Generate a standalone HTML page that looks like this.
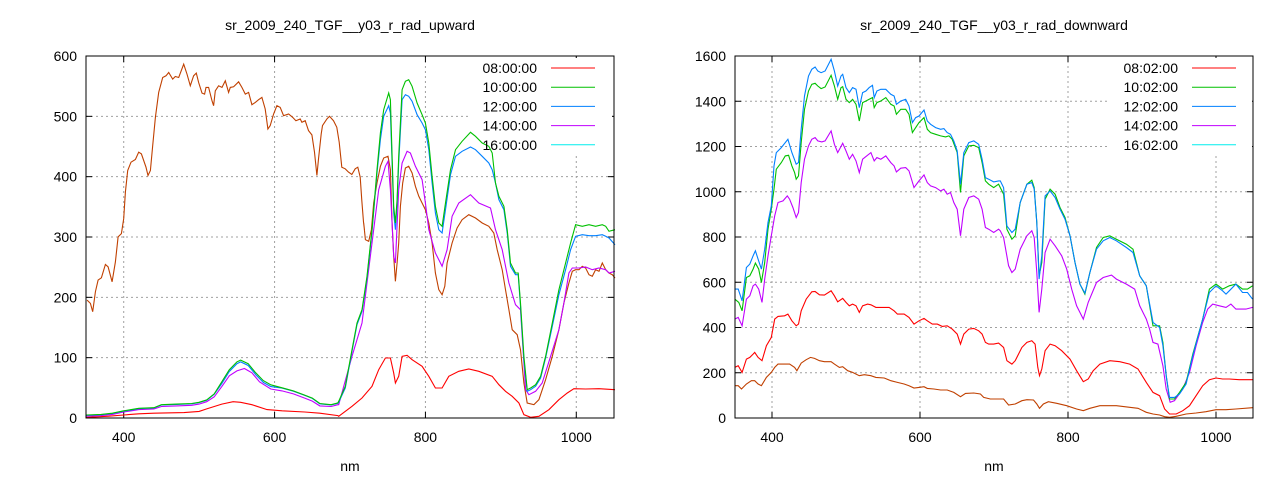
<!DOCTYPE html>
<html><head><meta charset="utf-8"><style>
html,body{margin:0;padding:0;background:#fff;}
svg{display:block;font-family:"Liberation Sans",sans-serif;}
</style></head><body>
<svg id="s" width="1280" height="480" xmlns="http://www.w3.org/2000/svg"></svg>
<script>
const S=document.getElementById('s');let out='';
function P(panel){
 const L={x0:86,x1:614,y0:56,y1:418,vmax:600};
 const R={x0:735,x1:1253,y0:56,y1:418,vmax:1600};
 return panel==='L'?L:R;
}
function X(p,nm){return p.x0+(nm-350)/700*(p.x1-p.x0);}
function Y(p,v){return p.y1-v/p.vmax*(p.y1-p.y0);}
function axes(p,title,yt){
 for(const nm of [400,600,800,1000]){const x=X(p,nm);out+=`<line x1="${x}" y1="${p.y0}" x2="${x}" y2="${p.y1}" stroke="#a0a0a0" stroke-dasharray="2,3"/>`;
  out+=`<line x1="${x}" y1="${p.y1}" x2="${x}" y2="${p.y1-6}" stroke="#000"/><line x1="${x}" y1="${p.y0}" x2="${x}" y2="${p.y0+6}" stroke="#000"/>`;
  out+=`<text x="${x}" y="${p.y1+24}" font-size="14" text-anchor="middle">${nm}</text>`;}
 for(const v of yt){const y=Y(p,v);
  if(v>0&&v<p.vmax)out+=`<line x1="${p.x0}" y1="${y}" x2="${p.x1}" y2="${y}" stroke="#a0a0a0" stroke-dasharray="2,3"/>`;
  out+=`<line x1="${p.x0}" y1="${y}" x2="${p.x0+6}" y2="${y}" stroke="#000"/><line x1="${p.x1}" y1="${y}" x2="${p.x1-6}" y2="${y}" stroke="#000"/>`;
  out+=`<text x="${p.x0-9}" y="${y+5}" font-size="14" text-anchor="end">${v}</text>`;}
 const cx=(p.x0+p.x1)/2;
 out+=`<text x="${cx}" y="30" font-size="14" text-anchor="middle">${title}</text>`;
 out+=`<text x="${cx}" y="471" font-size="14" text-anchor="middle">nm</text>`;
}
function frame(p,legend,lx){
 const cols=['#ff0000','#00c000','#0080ff','#c000ff','#00eeee'];
 legend.forEach((t,i)=>{const y=68+i*19.2;
  out+=`<text x="${lx}" y="${y+5}" font-size="14" text-anchor="end">${t}</text><line x1="${lx+14}" y1="${y}" x2="${lx+58}" y2="${y}" stroke="${cols[i]}"/>`;});
 out+=`<rect x="${p.x0}" y="${p.y0}" width="${p.x1-p.x0}" height="${p.y1-p.y0}" fill="none" stroke="#000"/>`;
}
function line(p,pts,col){out+=`<polyline fill="none" stroke="${col}" stroke-width="1.1" points="${pts.map(q=>X(p,q[0]).toFixed(1)+','+Y(p,q[1]).toFixed(1)).join(' ')}"/>`;}
const z5=a=>a.map(([x,y])=>[400+(x-115)/2.265,(1090-y)/1.816]);
const z6=a=>a.map(([x,y])=>[800+(x-260)/2.26,(1085-y)/1.81]);
const z7=a=>a.map(([x,y])=>[400+(x-112)/2.23,(1087-y)/0.6794]);
const z8=a=>a.filter(([x,y])=>x>66).map(([x,y])=>[800+(x-254)/2.23,(1087-y)/0.6794]);
const L=P('L');
axes(L,'sr_2009_240_TGF__y03_r_rad_upward',[0,100,200,300,400,500,600]);
out+=`<rect x="470" y="58" width="142" height="96" fill="#fff"/>`;
const brownL=z5([[5,735],[15,745],[22,770],[30,710],[38,675],[48,668],[60,628],[68,635],[80,680],[90,620],[98,545],[108,535],[115,490],[120,410],[127,345],[137,320],[150,312],[160,290],[168,295],[182,335],[188,360],[195,345],[202,270],[210,185],[220,110],[232,65],[242,60],[250,50],[262,70],[270,62],[280,65],[295,25],[305,55],[315,90],[325,60],[333,52],[340,80],[350,112],[358,115],[362,95],[370,95],[380,135],[385,150],[390,105],[400,90],[410,95],[420,75],[430,110],[435,95],[445,93],[460,78],[470,95],[480,115],[490,110],[500,147],[510,140],[520,132],[530,125],[540,160],[548,220],[555,210],[565,175],[575,150],[585,155],[595,180],[610,175],[622,185],[632,195],[645,190],[650,200],[660,195],[670,225],[680,238],[688,290],[695,360],[700,310],[708,235],[712,210],[725,190],[733,182],[745,195],[755,215],[762,260],[770,335],[780,340],[790,350],[800,357],[810,340],[818,335],[825,365],[830,435],[835,500],[838,525]]).concat(z6([[75,500],[80,550],[90,555],[98,520],[105,440],[115,380],[125,330],[135,305],[148,300],[155,340],[160,500],[165,600],[170,675],[175,620],[180,560],[185,450],[192,380],[200,335],[210,330],[220,350],[230,390],[240,420],[250,440],[260,460],[270,500],[280,560],[290,650],[300,700],[310,715],[318,690],[325,620],[340,560],[355,515],[370,490],[390,475],[410,485],[430,500],[450,510],[465,530],[475,580],[490,640],[500,700],[510,760],[520,820],[535,835],[545,880],[555,980],[565,1040],[585,1045],[600,1030],[620,970],[640,900],[660,820],[675,740],[690,680],[700,645],[710,640],[720,640],[730,630],[740,635],[750,655],[760,660],[770,640],[780,645],[790,620],[800,640],[810,650],[820,655],[828,665]]));
const lowG=[[350,5],[370,6],[385,8],[400,12],[410,14],[420,16],[440,17],[450,22],[470,23],[490,24],[500,26],[510,30],[520,40],[530,60],[540,80],[550,93],[555,96],[565,90],[575,75],[585,62],[595,55],[610,50],[625,45],[640,38],[650,33],[660,24],[675,22],[684,25]];
const greenL=lowG.concat(z6([[0,1035],[20,990],[40,880],[55,800],[70,760],[85,660],[100,520],[115,340],[125,230],[135,160],[150,110],[155,130],[160,300],[165,450],[170,500],[175,430],[180,300],[190,100],[200,75],[210,70],[220,90],[235,140],[250,175],[260,200],[270,260],[280,360],[290,450],[300,500],[310,510],[320,440],[335,340],[350,280],[370,255],[395,228],[410,240],[430,260],[450,270],[460,290],[470,380],[480,420],[495,450],[505,520],[515,620],[530,650],[538,650],[545,740],[555,900],[565,1000],[575,995],[590,985],[605,960],[620,900],[640,800],[660,700],[680,620],[695,560],[710,505],[730,510],[750,505],[770,510],[790,505],[800,510],[810,525],[828,520]]));
const blueL=lowG.map(([a,b])=>[a,b>50?b-3:b-0.5]).concat(z6([[0,1038],[20,995],[40,885],[55,805],[70,765],[85,665],[100,525],[115,350],[125,250],[135,180],[150,148],[155,170],[160,320],[165,470],[170,520],[175,440],[180,320],[190,130],[200,115],[210,120],[220,135],[235,175],[250,200],[260,220],[270,280],[280,380],[290,470],[300,520],[310,530],[320,460],[335,355],[350,300],[370,285],[395,272],[410,280],[430,300],[450,320],[460,340],[470,380],[480,430],[495,460],[505,530],[515,630],[530,655],[538,655],[545,750],[555,910],[565,1005],[575,1000],[590,990],[605,965],[620,905],[640,810],[660,715],[680,640],[695,580],[710,540],[730,535],[750,538],[770,538],[790,535],[800,540],[810,545],[828,565]]));
const purpleL=[[350,3],[370,4],[385,6],[400,10],[410,12],[420,14],[440,15],[450,19],[470,20],[490,21],[500,23],[510,27],[520,35],[530,52],[540,70],[550,78],[560,82],[570,75],[580,60],[595,48],[610,45],[625,40],[640,33],[650,28],[660,20],[675,19],[684,22]].concat(z6([[0,1045],[40,900],[70,800],[100,560],[120,400],[140,330],[148,315],[155,400],[165,600],[170,620],[180,400],[190,320],[205,285],[215,290],[230,330],[250,370],[260,440],[270,520],[290,590],[310,630],[325,580],[340,480],[360,440],[395,415],[420,440],[455,455],[470,520],[490,580],[510,680],[530,745],[545,760],[560,1000],[570,1015],[590,1005],[610,980],[635,900],[660,820],[675,740],[690,650],[700,635],[720,635],[740,632],[760,640],[780,635],[800,640],[810,650],[828,645]]));
const redL=[[350,1],[380,3],[400,5],[420,7],[440,8],[480,9],[500,11],[510,15],[530,23],[545,27],[555,26],[570,22],[590,14],[610,12],[640,10],[660,8],[684,4]].concat(z6([[0,1080],[40,1050],[70,1025],[100,990],[120,940],[140,905],[155,905],[165,950],[170,980],[180,960],[190,900],[205,897],[220,910],[250,930],[270,960],[290,995],[310,995],[330,960],[360,945],[390,938],[420,945],[460,960],[480,985],[500,1005],[520,1020],[540,1040],[555,1075],[575,1083],[600,1080],[630,1060],[660,1030],[685,1010],[705,997],[740,998],[780,997],[828,1000]]));
line(L,brownL,'#c04000');line(L,redL,'#ff0000');line(L,purpleL,'#c000ff');line(L,blueL,'#0080ff');line(L,greenL,'#00c000');
frame(L,['08:00:00','10:00:00','12:00:00','14:00:00','16:00:00'],537);
const R=P('R');
axes(R,'sr_2009_240_TGF__y03_r_rad_downward',[0,200,400,600,800,1000,1200,1400,1600]);
out+=`<rect x="1110" y="58" width="142" height="96" fill="#fff"/>`;
const blueR=z7([[0,700],[10,700],[22,735],[35,635],[45,625],[55,600],[62,585],[70,610],[80,640],[90,580],[100,500],[110,450],[118,330],[125,290],[140,275],[160,250],[172,290],[185,325],[192,320],[200,220],[210,120],[222,60],[232,40],[242,33],[250,45],[260,50],[272,45],[290,10],[300,45],[310,90],[320,60],[325,55],[335,95],[345,110],[355,95],[365,100],[375,155],[385,110],[395,105],[405,95],[415,88],[420,125],[428,105],[440,100],[455,100],[470,115],[480,120],[487,145],[500,135],[515,130],[525,150],[535,200],[545,185],[555,180],[570,162],[580,195],[590,205],[605,215],[620,220],[630,218],[640,230],[650,235],[660,255],[670,285],[680,385],[690,290],[705,260],[720,255],[735,265],[745,310],[755,365],[765,370],[780,378],[795,375],[800,375],[810,395]]).concat(z8([[10,370],[25,380],[45,375],[60,430],[70,510],[85,530],[95,520],[110,440],[130,385],[145,380],[152,400],[160,500],[167,670],[175,600],[185,420],[200,405],[215,425],[230,460],[245,490],[260,540],[275,620],[290,685],[305,712],[320,650],[340,580],[360,555],[380,545],[400,555],[430,575],[450,590],[470,660],[490,690],[510,800],[530,815],[540,870],[550,960],[560,1025],[575,1025],[590,1015],[610,985],[630,900],[660,790],[680,710],[700,690],[720,705],[730,715],[740,705],[760,685],[780,710],[795,710],[810,730]]));
const greenR=z7([[0,730],[12,740],[22,765],[35,665],[45,660],[55,640],[62,622],[72,640],[80,680],[90,620],[100,520],[110,460],[118,400],[125,340],[140,320],[152,300],[162,298],[172,330],[180,350],[185,370],[192,360],[200,260],[210,160],[222,105],[232,85],[242,82],[250,90],[260,98],[272,93],[290,58],[300,90],[310,130],[320,95],[325,92],[335,130],[345,140],[355,130],[365,145],[375,195],[385,140],[395,135],[405,130],[415,125],[420,155],[428,140],[440,135],[455,125],[470,145],[480,150],[487,175],[500,160],[515,160],[525,175],[535,230],[545,215],[555,200],[570,185],[580,220],[590,230],[605,235],[620,240],[635,243],[645,240],[655,250],[670,290],[680,410],[690,300],[705,270],[720,268],[735,275],[745,320],[755,375],[765,385],[780,395],[795,385],[800,395],[810,415]]).concat(z8([[15,380],[30,400],[45,390],[60,430],[70,520],[85,550],[95,540],[110,440],[130,385],[145,373],[152,395],[160,500],[167,660],[175,620],[185,430],[200,400],[215,415],[230,455],[245,485],[260,540],[275,620],[290,685],[305,715],[320,650],[340,575],[360,545],[380,540],[400,550],[430,565],[450,580],[470,660],[490,690],[510,810],[530,810],[540,860],[550,960],[560,1030],[575,1030],[590,1010],[610,980],[630,895],[660,790],[680,700],[700,685],[720,700],[740,690],[760,685],[780,700],[795,700],[810,690]]));
const purpleR=z7([[0,790],[10,785],[22,810],[35,730],[45,720],[55,690],[62,685],[72,700],[82,740],[90,670],[100,600],[110,540],[120,480],[130,440],[145,435],[158,420],[165,430],[175,455],[185,485],[192,470],[200,380],[210,310],[222,270],[232,250],[242,245],[250,255],[262,258],[272,255],[290,225],[300,265],[310,290],[325,262],[335,285],[345,310],[355,295],[365,315],[375,350],[385,310],[395,302],[410,290],[420,315],[428,305],[440,310],[455,300],[470,320],[480,330],[487,348],[500,337],[515,335],[525,345],[540,395],[555,375],[570,357],[580,380],[590,390],[605,395],[620,405],[630,400],[640,415],[650,410],[660,440],[670,460],[680,540],[690,460],[705,425],[720,420],[735,430],[745,460],[755,515],[765,520],[780,530],[795,520],[800,525],[810,545]]).concat(z8([[10,510],[25,515],[45,530],[55,520],[65,560],[75,630],[85,650],[95,640],[110,580],[130,540],[145,525],[152,545],[160,650],[167,770],[175,700],[185,590],[200,550],[215,570],[235,600],[250,640],[265,700],[280,750],[300,790],[315,740],[340,680],[360,665],[385,658],[400,670],[430,685],[455,700],[470,750],[490,790],[500,820],[510,860],[525,865],[540,930],[550,1000],[562,1040],[575,1035],[600,1000],[620,950],[640,870],[660,800],[675,760],[690,745],[710,750],[730,755],[745,745],[760,760],[790,760],[810,755]]));
const redR=z7([[0,935],[10,930],[22,950],[35,910],[45,905],[55,895],[60,890],[70,905],[82,915],[95,870],[110,845],[120,790],[130,782],[150,780],[160,775],[172,795],[185,810],[192,805],[200,765],[215,730],[232,708],[242,707],[255,717],[270,718],[290,705],[300,720],[310,738],[325,728],[335,740],[345,750],[355,745],[365,750],[375,770],[385,750],[400,745],[410,747],[425,755],[440,755],[465,755],[480,765],[490,775],[510,775],[525,785],[540,805],[555,795],[570,788],[580,795],[595,805],[610,805],[625,812],[640,810],[655,820],[670,835],[680,865],[690,835],[705,820],[720,818],[735,825],[745,835],[755,860],[765,865],[780,865],[795,862],[810,875]]).concat(z8([[15,860],[30,865],[45,865],[55,880],[70,915],[85,925],[95,915],[115,875],[130,860],[145,855],[155,865],[163,935],[168,960],[175,940],[185,885],[200,865],[215,870],[235,885],[260,910],[280,945],[300,978],[315,970],[330,945],[350,925],[380,915],[410,918],[440,925],[465,940],[490,980],[510,1010],[530,1020],[545,1060],[560,1075],[580,1075],[600,1065],[620,1050],[640,1020],[660,990],[680,972],[700,967],[720,970],[740,970],[770,972],[810,972]]));
const brownR=z7([[0,990],[10,990],[20,1000],[35,985],[50,975],[60,975],[70,985],[80,990],[95,965],[110,950],[120,935],[130,925],[150,925],[165,925],[180,935],[187,945],[200,922],[215,912],[228,905],[240,908],[255,915],[270,918],[290,918],[300,925],[315,935],[325,933],[340,945],[355,950],[375,960],[390,957],[410,960],[425,965],[450,967],[470,975],[490,980],[510,985],[525,990],[540,997],[555,995],[570,993],[580,998],[600,1000],[620,1003],[640,1003],[660,1010],[680,1023],[695,1013],[720,1012],[740,1015],[750,1025],[770,1030],[810,1030]]).concat(z8([[20,1030],[45,1035],[60,1040],[75,1048],[95,1045],[115,1035],[130,1032],[150,1033],[160,1045],[168,1058],[180,1045],[195,1038],[220,1043],[250,1050],[280,1060],[300,1065],[320,1058],[350,1050],[400,1050],[440,1055],[465,1058],[490,1070],[510,1075],[530,1078],[545,1083],[560,1085],[580,1082],[610,1075],[640,1072],[670,1068],[700,1062],[730,1062],[760,1060],[810,1056]]));
line(R,brownR,'#c04000');line(R,redR,'#ff0000');line(R,purpleR,'#c000ff');line(R,greenR,'#00c000');line(R,blueR,'#0080ff');
frame(R,['08:02:00','10:02:00','12:02:00','14:02:00','16:02:00'],1178);
S.innerHTML=out;
</script>
</body></html>
